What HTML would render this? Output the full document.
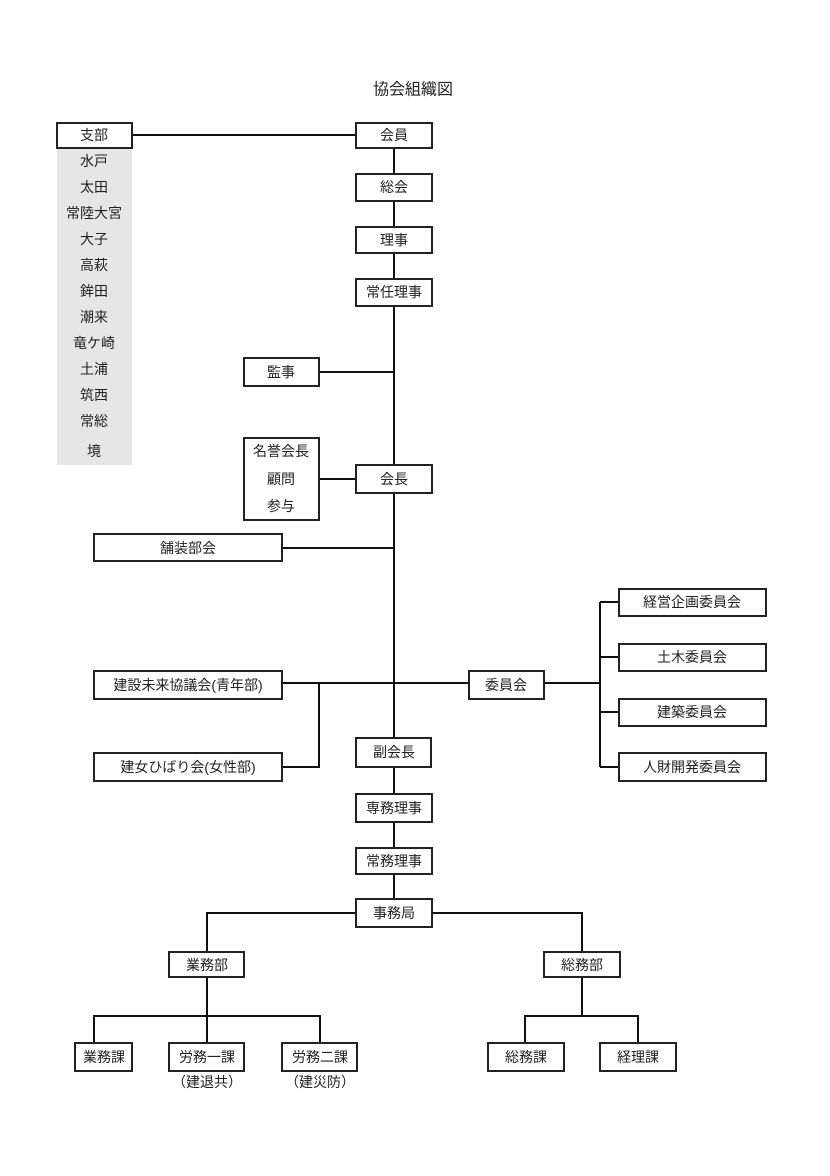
<!DOCTYPE html>
<html><head><meta charset="utf-8"><style>
html,body{margin:0;padding:0;background:#fff;}
svg{display:block;}
text{font-family:"Liberation Sans","Noto Sans CJK JP",sans-serif;font-size:14px;fill:#222;text-anchor:middle;dominant-baseline:central;}
.b{fill:#fff;stroke:#222;stroke-width:2;}
.l{stroke:#111;stroke-width:2;fill:none;}
</style></head><body>
<svg width="830" height="1176" viewBox="0 0 830 1176">
<text x="413" y="90" style="font-size:16px">協会組織図</text>
<!-- lines -->
<path class="l" d="M132 135H356 M394 148V465 M319 372H394 M319 479H356 M394 493V738 M282 548H394 M282 683H469 M319 683V767H282 M544 683H600 M600 602V767 M600 602H619 M600 657H619 M600 712H619 M600 767H619 M394 767V794 M394 822V848 M394 874V899 M207 952V913H582V952 M207 977V1016 M94 1043V1016H320V1043 M207 1016V1043 M582 977V1016 M525 1043V1016H638V1043"/>
<!-- branches -->
<rect x="57" y="148" width="75" height="317" fill="#e6e6e6"/>
<rect class="b" x="57" y="123" width="75" height="25"/><text x="94" y="135">支部</text>
<text x="94" y="161">水戸</text><text x="94" y="187">太田</text><text x="94" y="213">常陸大宮</text><text x="94" y="239">大子</text><text x="94" y="265">高萩</text><text x="94" y="291">鉾田</text><text x="94" y="317">潮来</text><text x="94" y="343">竜ケ崎</text><text x="94" y="369">土浦</text><text x="94" y="395">筑西</text><text x="94" y="421">常総</text><text x="94" y="451">境</text>
<!-- center -->
<rect class="b" x="356" y="123" width="76" height="25"/><text x="394" y="135">会員</text>
<rect class="b" x="356" y="174" width="76" height="27"/><text x="394" y="187">総会</text>
<rect class="b" x="356" y="227" width="76" height="26"/><text x="394" y="240">理事</text>
<rect class="b" x="356" y="279" width="76" height="27"/><text x="394" y="292">常任理事</text>
<rect class="b" x="244" y="358" width="75" height="28"/><text x="281" y="372">監事</text>
<rect class="b" x="244" y="438" width="75" height="82"/><text x="281" y="451">名誉会長</text><text x="281" y="479">顧問</text><text x="281" y="506">参与</text>
<rect class="b" x="356" y="465" width="76" height="28"/><text x="394" y="479">会長</text>
<rect class="b" x="94" y="534" width="188" height="27"/><text x="188" y="548">舗装部会</text>
<rect class="b" x="94" y="671" width="188" height="28"/><text x="188" y="685">建設未来協議会(青年部)</text>
<rect class="b" x="94" y="753" width="188" height="28"/><text x="188" y="767">建女ひばり会(女性部)</text>
<rect class="b" x="469" y="671" width="75" height="28"/><text x="506" y="685">委員会</text>
<rect class="b" x="619" y="589" width="147" height="27"/><text x="692" y="602">経営企画委員会</text>
<rect class="b" x="619" y="644" width="147" height="27"/><text x="692" y="657">土木委員会</text>
<rect class="b" x="619" y="699" width="147" height="27"/><text x="692" y="712">建築委員会</text>
<rect class="b" x="619" y="753" width="147" height="28"/><text x="692" y="767">人財開発委員会</text>
<rect class="b" x="356" y="738" width="75" height="29"/><text x="394" y="752">副会長</text>
<rect class="b" x="356" y="794" width="76" height="28"/><text x="394" y="808">専務理事</text>
<rect class="b" x="356" y="848" width="76" height="26"/><text x="394" y="861">常務理事</text>
<rect class="b" x="356" y="899" width="76" height="28"/><text x="394" y="913">事務局</text>
<rect class="b" x="169" y="952" width="75" height="25"/><text x="207" y="965">業務部</text>
<rect class="b" x="544" y="952" width="76" height="25"/><text x="582" y="965">総務部</text>
<rect class="b" x="75" y="1043" width="57" height="28"/><text x="104" y="1057">業務課</text>
<rect class="b" x="169" y="1043" width="75" height="28"/><text x="207" y="1057">労務一課</text>
<rect class="b" x="282" y="1043" width="75" height="28"/><text x="320" y="1057">労務二課</text>
<rect class="b" x="488" y="1043" width="76" height="28"/><text x="526" y="1057">総務課</text>
<rect class="b" x="600" y="1043" width="76" height="28"/><text x="638" y="1057">経理課</text>
<text x="207" y="1082">（建退共）</text>
<text x="320" y="1082">（建災防）</text>
</svg>
</body></html>
